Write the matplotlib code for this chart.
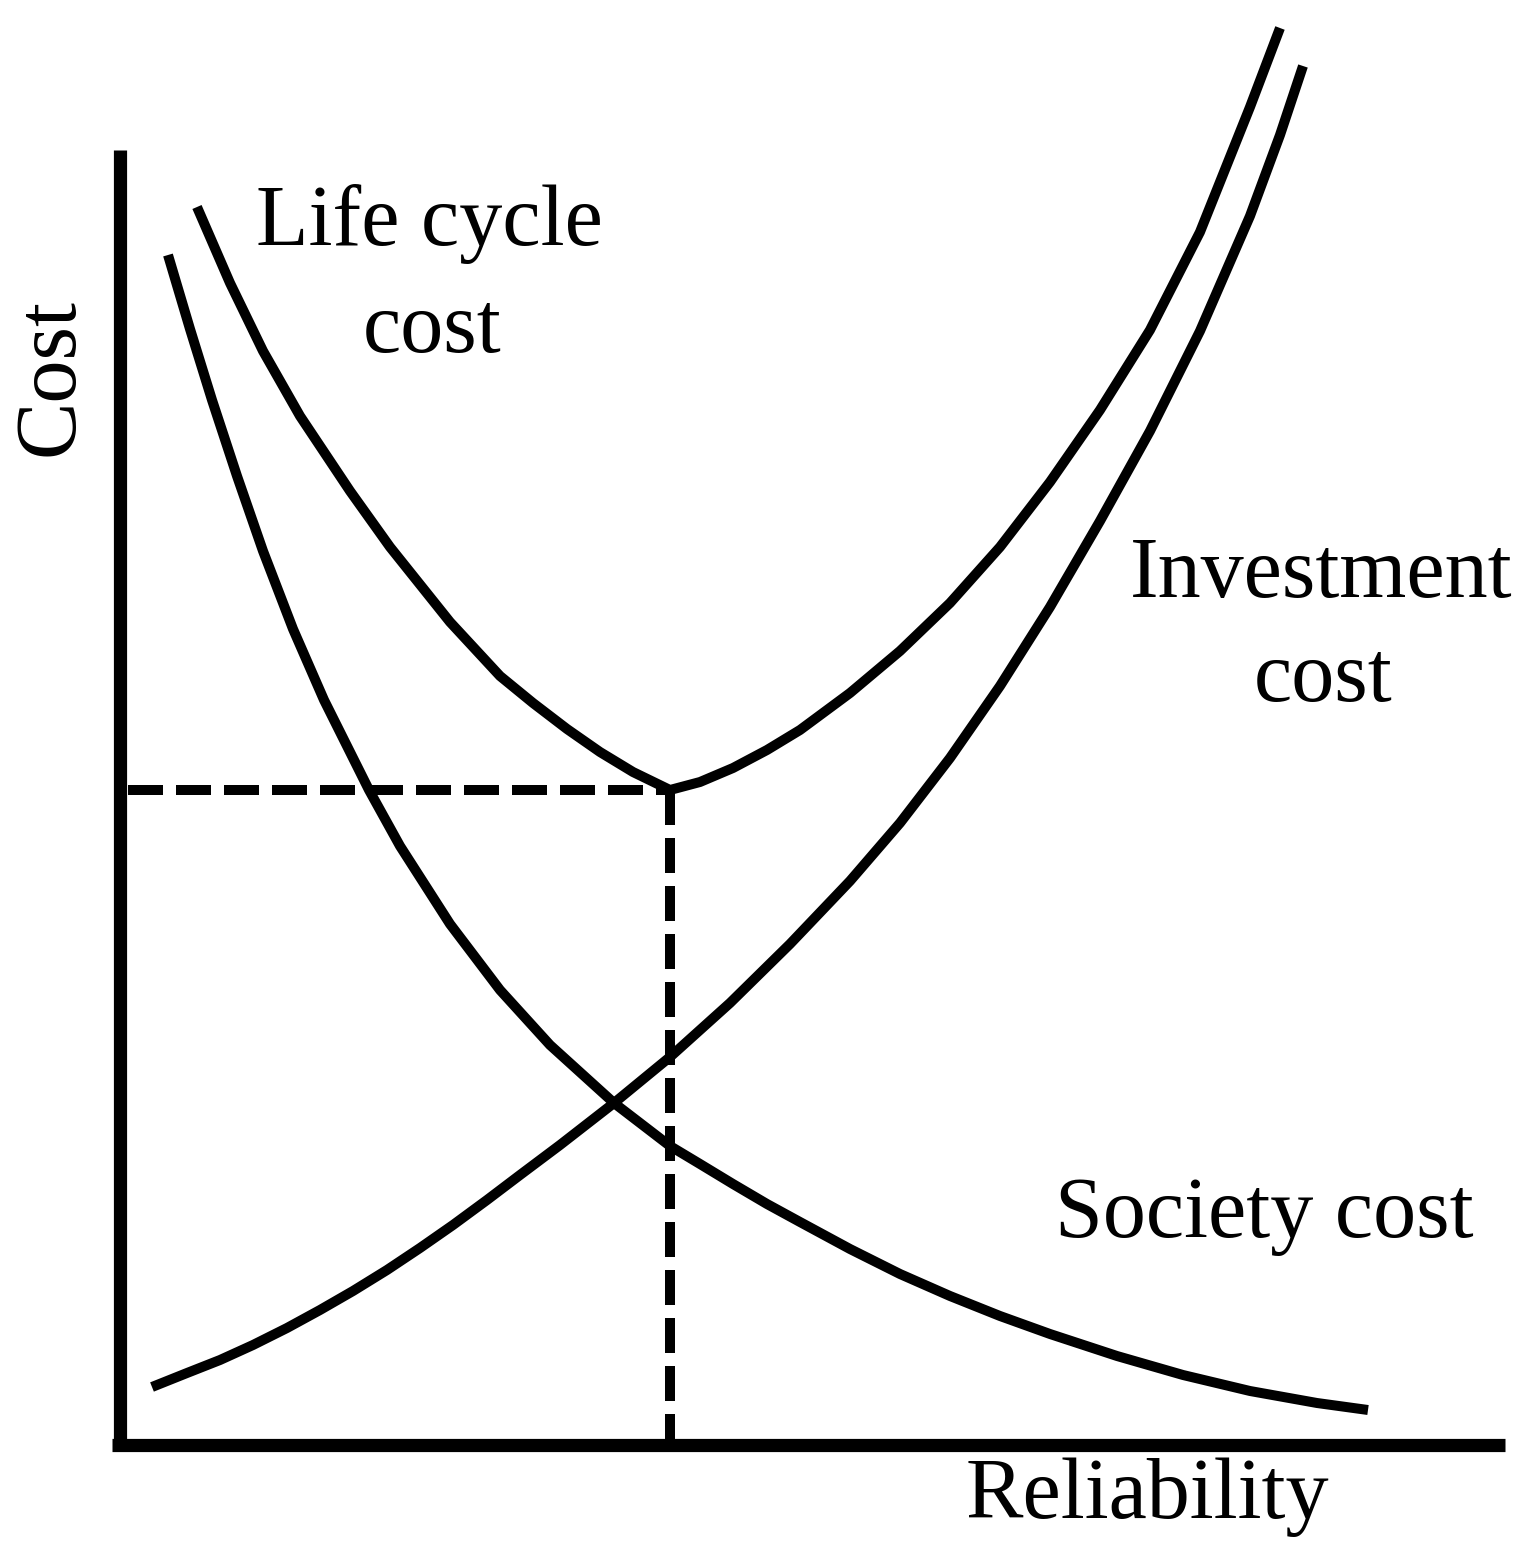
import matplotlib.pyplot as plt

# Curves (reliability, cost), arbitrary units
invest_x = [3.2, 6.7, 10.0, 13.3, 16.7, 20.0, 23.3, 26.7, 30.0, 33.3, 36.7, 40.0, 44.0, 49.4, 55.0,
            61.0, 67.0, 73.0, 78.0, 83.0, 88.0, 93.0, 98.0, 103.0, 108.0, 113.0, 116.0, 118.3]
invest_y = [5.8, 7.2, 8.5, 10.0, 11.7, 13.5, 15.4, 17.5, 19.7, 22.0, 24.5, 27.0, 30.0, 34.2, 38.8,
            44.2, 50.1, 56.4, 62.2, 68.7, 75.9, 83.8, 92.4, 101.4, 111.4, 122.9, 131.0, 137.9]

life_x = [7.7, 11.0, 14.3, 18.0, 23.0, 27.0, 33.0, 38.0, 41.3, 44.7, 48.0, 51.3, 55.0,
          58.0, 61.3, 64.7, 68.0, 73.0, 78.0, 83.0, 88.0, 93.0, 98.0, 103.0, 108.0, 113.0, 116.0]
life_y = [123.8, 116.2, 109.4, 102.9, 95.4, 89.8, 82.3, 76.9, 74.2, 71.6, 69.3, 67.3, 65.5,
          66.3, 67.7, 69.5, 71.5, 75.2, 79.4, 84.2, 89.8, 96.3, 103.5, 111.5, 121.3, 133.8, 141.7]

society_x = [4.8, 7.0, 9.2, 11.7, 14.3, 17.3, 20.4, 24.9, 28.0, 33.0, 38.0, 43.0, 49.4, 55.0,
             58.0, 61.3, 64.7, 68.0, 73.0, 78.0, 83.0, 88.0, 93.0, 99.7, 106.3, 113.0, 119.7, 124.8]
society_y = [119.0, 111.6, 104.5, 96.9, 89.4, 81.6, 74.5, 65.5, 59.9, 52.1, 45.5, 40.0, 34.2, 29.9,
             28.1, 26.1, 24.1, 22.3, 19.6, 17.1, 14.9, 12.9, 11.1, 8.9, 7.0, 5.4, 4.2, 3.5]

# optimum point (minimum of life cycle cost)
opt_x = 55.0
opt_y = 65.5

fig = plt.figure(figsize=(15.39, 15.55), dpi=100)
ax = fig.add_axes([0, 0, 1, 1])
ax.set_xlim(-12, 141.9)
ax.set_ylim(-11, 144.5)
ax.axis('off')

# axes drawn by hand, like the original sketch
ax.plot([0, 0], [-0.3, 129.5], color='black', lw=9.5, solid_capstyle='butt')
ax.plot([-0.8, 138.5], [0, 0], color='black', lw=9.5, solid_capstyle='butt')

curve = dict(color='black', lw=7.2, solid_capstyle='butt', solid_joinstyle='round')
ax.plot(invest_x, invest_y, **curve)
ax.plot(life_x, life_y, **curve)
ax.plot(society_x, society_y, **curve)

# dashed guides to the optimum
dash = dict(color='black', lw=7.2, linestyle=(0, (3.5, 1.3)), dash_capstyle='butt')
ax.plot([0.8, opt_x], [opt_y, opt_y], **dash)
ax.plot([opt_x, opt_x], [opt_y, 0], **dash)

font = dict(family='Liberation Serif', fontsize=62, color='black')
ax.text(30.9, 120.0, 'Life cycle', ha='center', va='baseline', **font)
ax.text(31.2, 109.3, 'cost', ha='center', va='baseline', **font)
ax.text(120.1, 84.8, 'Investment', ha='center', va='baseline', **font)
ax.text(120.3, 74.4, 'cost', ha='center', va='baseline', **font)
ax.text(114.4, 20.8, 'Society cost', ha='center', va='baseline', **font)
ax.text(102.7, -7.3, 'Reliability', ha='center', va='baseline', **font)
ax.text(-6.8, 106.8, 'Cost', ha='center', va='center', rotation=90, **font)

plt.savefig('out.png', dpi=100, facecolor='white')
